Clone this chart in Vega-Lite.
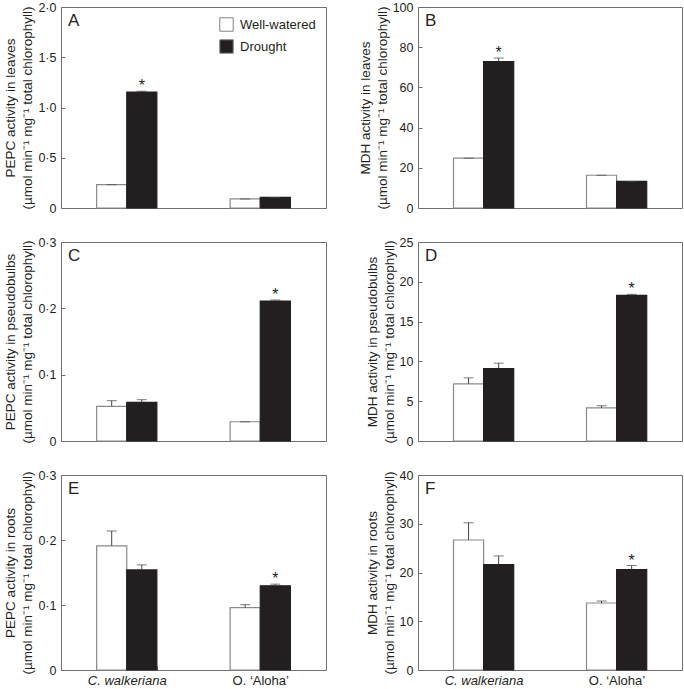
{
  "$schema": "https://vega.github.io/schema/vega-lite/v6.json",
  "padding": {"left": 3, "top": 0, "right": 0, "bottom": 0},
  "background": "white",
  "data": {
    "values": [
      {"panel": "A", "species": "C. walkeriana", "treatment": "Well-watered", "value": 0.232, "upper": 0.232, "sig": ""},
      {"panel": "A", "species": "C. walkeriana", "treatment": "Drought", "value": 1.154, "upper": 1.162, "sig": "*"},
      {"panel": "A", "species": "O. ‘Aloha’", "treatment": "Well-watered", "value": 0.09, "upper": 0.09, "sig": ""},
      {"panel": "A", "species": "O. ‘Aloha’", "treatment": "Drought", "value": 0.105, "upper": 0.105, "sig": ""},
      {"panel": "B", "species": "C. walkeriana", "treatment": "Well-watered", "value": 24.8, "upper": 24.8, "sig": ""},
      {"panel": "B", "species": "C. walkeriana", "treatment": "Drought", "value": 72.8, "upper": 74.6, "sig": "*"},
      {"panel": "B", "species": "O. ‘Aloha’", "treatment": "Well-watered", "value": 16.3, "upper": 16.3, "sig": ""},
      {"panel": "B", "species": "O. ‘Aloha’", "treatment": "Drought", "value": 13.2, "upper": 13.2, "sig": ""},
      {"panel": "C", "species": "C. walkeriana", "treatment": "Well-watered", "value": 0.0523, "upper": 0.0608, "sig": ""},
      {"panel": "C", "species": "C. walkeriana", "treatment": "Drought", "value": 0.0583, "upper": 0.0623, "sig": ""},
      {"panel": "C", "species": "O. ‘Aloha’", "treatment": "Well-watered", "value": 0.029, "upper": 0.029, "sig": ""},
      {"panel": "C", "species": "O. ‘Aloha’", "treatment": "Drought", "value": 0.211, "upper": 0.2126, "sig": "*"},
      {"panel": "D", "species": "C. walkeriana", "treatment": "Well-watered", "value": 7.17, "upper": 7.93, "sig": ""},
      {"panel": "D", "species": "C. walkeriana", "treatment": "Drought", "value": 9.11, "upper": 9.78, "sig": ""},
      {"panel": "D", "species": "O. ‘Aloha’", "treatment": "Well-watered", "value": 4.17, "upper": 4.43, "sig": ""},
      {"panel": "D", "species": "O. ‘Aloha’", "treatment": "Drought", "value": 18.3, "upper": 18.42, "sig": "*"},
      {"panel": "E", "species": "C. walkeriana", "treatment": "Well-watered", "value": 0.191, "upper": 0.2138, "sig": ""},
      {"panel": "E", "species": "C. walkeriana", "treatment": "Drought", "value": 0.154, "upper": 0.1617, "sig": ""},
      {"panel": "E", "species": "O. ‘Aloha’", "treatment": "Well-watered", "value": 0.0959, "upper": 0.1005, "sig": ""},
      {"panel": "E", "species": "O. ‘Aloha’", "treatment": "Drought", "value": 0.1296, "upper": 0.1321, "sig": "*"},
      {"panel": "F", "species": "C. walkeriana", "treatment": "Well-watered", "value": 26.67, "upper": 30.2, "sig": ""},
      {"panel": "F", "species": "C. walkeriana", "treatment": "Drought", "value": 21.63, "upper": 23.4, "sig": ""},
      {"panel": "F", "species": "O. ‘Aloha’", "treatment": "Well-watered", "value": 13.74, "upper": 14.15, "sig": ""},
      {"panel": "F", "species": "O. ‘Aloha’", "treatment": "Drought", "value": 20.6, "upper": 21.43, "sig": "*"}
    ]
  },
  "columns": 2,
  "spacing": {"row": 20, "column": 30},
  "resolve": {"scale": {"fill": "independent", "x": "independent", "y": "independent"}},
  "concat": [
    {
      "width": 265, "height": 201,
      "title": {"text": "A"},
      "transform": [{"filter": "datum.panel == 'A'"}],
      "encoding": {
        "x": {"field": "species", "type": "nominal", "sort": ["C. walkeriana", "O. ‘Aloha’"], "scale": {"paddingInner": 0.549, "paddingOuter": 0.267}, "axis": null},
        "xOffset": {"field": "treatment", "type": "nominal", "sort": ["Well-watered", "Drought"], "scale": {"paddingInner": 0, "paddingOuter": 0}},
        "y": {"field": "value", "type": "quantitative", "scale": {"domain": [0, 2]}, "axis": {"values": [0, 0.5, 1, 1.5, 2]}, "title": ["PEPC activity in leaves", "(µmol min⁻¹ mg⁻¹ total chlorophyll)"]}
      },
      "layer": [
        {"mark": {"type": "bar", "strokeWidth": 1.2},
         "encoding": {
           "fill": {"field": "treatment", "type": "nominal", "scale": {"domain": ["Well-watered", "Drought"], "range": ["#ffffff", "#231f20"]},
             "legend": {"orient": "top-right", "offset": 10, "title": null, "symbolType": "square", "symbolSize": 180, "symbolStrokeColor": "#808080", "symbolStrokeWidth": 1, "labelFontSize": 13, "rowPadding": 3, "labelOffset": 6, "padding": 0, "labelColor": "#231f20", "labelFont": "Liberation Sans"}},
           "stroke": {"condition": {"test": "datum.treatment == 'Well-watered'", "value": "#8a8a8a"}, "value": "#231f20"}
         }},
        {"mark": {"type": "rule", "color": "#444444"}, "encoding": {"y2": {"field": "upper"}}},
        {"mark": {"type": "tick", "color": "#444444", "size": 10, "thickness": 1}, "encoding": {"y": {"field": "upper", "type": "quantitative"}}},
        {"transform": [{"filter": "datum.sig == '*'"}], "mark": {"type": "text", "fontSize": 16, "baseline": "alphabetic", "dy": 0, "color": "#231f20"}, "encoding": {"y": {"field": "upper", "type": "quantitative"}, "text": {"field": "sig"}}}
      ]
    },
    {
      "width": 264, "height": 201,
      "title": {"text": "B"},
      "transform": [{"filter": "datum.panel == 'B'"}],
      "encoding": {
        "x": {"field": "species", "type": "nominal", "sort": ["C. walkeriana", "O. ‘Aloha’"], "scale": {"paddingInner": 0.549, "paddingOuter": 0.267}, "axis": null},
        "xOffset": {"field": "treatment", "type": "nominal", "sort": ["Well-watered", "Drought"], "scale": {"paddingInner": 0, "paddingOuter": 0}},
        "y": {"field": "value", "type": "quantitative", "scale": {"domain": [0, 100]}, "axis": {"values": [0, 20, 40, 60, 80, 100]}, "title": ["MDH activity in leaves", "(µmol min⁻¹ mg⁻¹ total chlorophyll)"]}
      },
      "layer": [
        {"mark": {"type": "bar", "strokeWidth": 1.2},
         "encoding": {
           "fill": {"field": "treatment", "type": "nominal", "scale": {"domain": ["Well-watered", "Drought"], "range": ["#ffffff", "#231f20"]}, "legend": null},
           "stroke": {"condition": {"test": "datum.treatment == 'Well-watered'", "value": "#8a8a8a"}, "value": "#231f20"}
         }},
        {"mark": {"type": "rule", "color": "#444444"}, "encoding": {"y2": {"field": "upper"}}},
        {"mark": {"type": "tick", "color": "#444444", "size": 10, "thickness": 1}, "encoding": {"y": {"field": "upper", "type": "quantitative"}}},
        {"transform": [{"filter": "datum.sig == '*'"}], "mark": {"type": "text", "fontSize": 16, "baseline": "alphabetic", "dy": 0, "color": "#231f20"}, "encoding": {"y": {"field": "upper", "type": "quantitative"}, "text": {"field": "sig"}}}
      ]
    },
    {
      "width": 265, "height": 199,
      "title": {"text": "C"},
      "transform": [{"filter": "datum.panel == 'C'"}],
      "encoding": {
        "x": {"field": "species", "type": "nominal", "sort": ["C. walkeriana", "O. ‘Aloha’"], "scale": {"paddingInner": 0.549, "paddingOuter": 0.267}, "axis": null},
        "xOffset": {"field": "treatment", "type": "nominal", "sort": ["Well-watered", "Drought"], "scale": {"paddingInner": 0, "paddingOuter": 0}},
        "y": {"field": "value", "type": "quantitative", "scale": {"domain": [0, 0.3]}, "axis": {"values": [0, 0.1, 0.2, 0.3]}, "title": ["PEPC activity in pseudobulbs", "(µmol min⁻¹ mg⁻¹ total chlorophyll)"]}
      },
      "layer": [
        {"mark": {"type": "bar", "strokeWidth": 1.2},
         "encoding": {
           "fill": {"field": "treatment", "type": "nominal", "scale": {"domain": ["Well-watered", "Drought"], "range": ["#ffffff", "#231f20"]}, "legend": null},
           "stroke": {"condition": {"test": "datum.treatment == 'Well-watered'", "value": "#8a8a8a"}, "value": "#231f20"}
         }},
        {"mark": {"type": "rule", "color": "#444444"}, "encoding": {"y2": {"field": "upper"}}},
        {"mark": {"type": "tick", "color": "#444444", "size": 10, "thickness": 1}, "encoding": {"y": {"field": "upper", "type": "quantitative"}}},
        {"transform": [{"filter": "datum.sig == '*'"}], "mark": {"type": "text", "fontSize": 16, "baseline": "alphabetic", "dy": 0, "color": "#231f20"}, "encoding": {"y": {"field": "upper", "type": "quantitative"}, "text": {"field": "sig"}}}
      ]
    },
    {
      "width": 264, "height": 199,
      "title": {"text": "D"},
      "transform": [{"filter": "datum.panel == 'D'"}],
      "encoding": {
        "x": {"field": "species", "type": "nominal", "sort": ["C. walkeriana", "O. ‘Aloha’"], "scale": {"paddingInner": 0.549, "paddingOuter": 0.267}, "axis": null},
        "xOffset": {"field": "treatment", "type": "nominal", "sort": ["Well-watered", "Drought"], "scale": {"paddingInner": 0, "paddingOuter": 0}},
        "y": {"field": "value", "type": "quantitative", "scale": {"domain": [0, 25]}, "axis": {"values": [0, 5, 10, 15, 20, 25]}, "title": ["MDH activity in pseudobulbs", "(µmol min⁻¹ mg⁻¹ total chlorophyll)"]}
      },
      "layer": [
        {"mark": {"type": "bar", "strokeWidth": 1.2},
         "encoding": {
           "fill": {"field": "treatment", "type": "nominal", "scale": {"domain": ["Well-watered", "Drought"], "range": ["#ffffff", "#231f20"]}, "legend": null},
           "stroke": {"condition": {"test": "datum.treatment == 'Well-watered'", "value": "#8a8a8a"}, "value": "#231f20"}
         }},
        {"mark": {"type": "rule", "color": "#444444"}, "encoding": {"y2": {"field": "upper"}}},
        {"mark": {"type": "tick", "color": "#444444", "size": 10, "thickness": 1}, "encoding": {"y": {"field": "upper", "type": "quantitative"}}},
        {"transform": [{"filter": "datum.sig == '*'"}], "mark": {"type": "text", "fontSize": 16, "baseline": "alphabetic", "dy": 0, "color": "#231f20"}, "encoding": {"y": {"field": "upper", "type": "quantitative"}, "text": {"field": "sig"}}}
      ]
    },
    {
      "width": 265, "height": 195,
      "title": {"text": "E"},
      "transform": [{"filter": "datum.panel == 'E'"}],
      "encoding": {
        "x": {"field": "species", "type": "nominal", "sort": ["C. walkeriana", "O. ‘Aloha’"], "scale": {"paddingInner": 0.549, "paddingOuter": 0.267},
          "axis": {"title": null, "tickBand": "extent", "labelAngle": 0, "labelFontSize": 13, "labelPadding": 8, "labelFontStyle": {"condition": {"test": "datum.value == 'C. walkeriana'", "value": "italic"}, "value": "normal"}}},
        "xOffset": {"field": "treatment", "type": "nominal", "sort": ["Well-watered", "Drought"], "scale": {"paddingInner": 0, "paddingOuter": 0}},
        "y": {"field": "value", "type": "quantitative", "scale": {"domain": [0, 0.3]}, "axis": {"values": [0, 0.1, 0.2, 0.3]}, "title": ["PEPC activity in roots", "(µmol min⁻¹ mg⁻¹ total chlorophyll)"]}
      },
      "layer": [
        {"mark": {"type": "bar", "strokeWidth": 1.2},
         "encoding": {
           "fill": {"field": "treatment", "type": "nominal", "scale": {"domain": ["Well-watered", "Drought"], "range": ["#ffffff", "#231f20"]}, "legend": null},
           "stroke": {"condition": {"test": "datum.treatment == 'Well-watered'", "value": "#8a8a8a"}, "value": "#231f20"}
         }},
        {"mark": {"type": "rule", "color": "#444444"}, "encoding": {"y2": {"field": "upper"}}},
        {"mark": {"type": "tick", "color": "#444444", "size": 10, "thickness": 1}, "encoding": {"y": {"field": "upper", "type": "quantitative"}}},
        {"transform": [{"filter": "datum.sig == '*'"}], "mark": {"type": "text", "fontSize": 16, "baseline": "alphabetic", "dy": 0, "color": "#231f20"}, "encoding": {"y": {"field": "upper", "type": "quantitative"}, "text": {"field": "sig"}}}
      ]
    },
    {
      "width": 264, "height": 195,
      "title": {"text": "F"},
      "transform": [{"filter": "datum.panel == 'F'"}],
      "encoding": {
        "x": {"field": "species", "type": "nominal", "sort": ["C. walkeriana", "O. ‘Aloha’"], "scale": {"paddingInner": 0.549, "paddingOuter": 0.267},
          "axis": {"title": null, "tickBand": "extent", "labelAngle": 0, "labelFontSize": 13, "labelPadding": 8, "labelFontStyle": {"condition": {"test": "datum.value == 'C. walkeriana'", "value": "italic"}, "value": "normal"}}},
        "xOffset": {"field": "treatment", "type": "nominal", "sort": ["Well-watered", "Drought"], "scale": {"paddingInner": 0, "paddingOuter": 0}},
        "y": {"field": "value", "type": "quantitative", "scale": {"domain": [0, 40]}, "axis": {"values": [0, 10, 20, 30, 40]}, "title": ["MDH activity in roots", "(µmol min⁻¹ mg⁻¹ total chlorophyll)"]}
      },
      "layer": [
        {"mark": {"type": "bar", "strokeWidth": 1.2},
         "encoding": {
           "fill": {"field": "treatment", "type": "nominal", "scale": {"domain": ["Well-watered", "Drought"], "range": ["#ffffff", "#231f20"]}, "legend": null},
           "stroke": {"condition": {"test": "datum.treatment == 'Well-watered'", "value": "#8a8a8a"}, "value": "#231f20"}
         }},
        {"mark": {"type": "rule", "color": "#444444"}, "encoding": {"y2": {"field": "upper"}}},
        {"mark": {"type": "tick", "color": "#444444", "size": 10, "thickness": 1}, "encoding": {"y": {"field": "upper", "type": "quantitative"}}},
        {"transform": [{"filter": "datum.sig == '*'"}], "mark": {"type": "text", "fontSize": 16, "baseline": "alphabetic", "dy": 0, "color": "#231f20"}, "encoding": {"y": {"field": "upper", "type": "quantitative"}, "text": {"field": "sig"}}}
      ]
    }
  ],
  "config": {
    "font": "Liberation Sans",
    "view": {"stroke": "#707070", "strokeWidth": 1},
    "axis": {"domain": false, "grid": false, "tickColor": "#707070", "tickSize": -4, "labelColor": "#231f20", "titleColor": "#231f20", "labelFont": "Liberation Sans", "titleFont": "Liberation Sans", "titleFontWeight": "normal", "labelFontSize": 12.5, "titleFontSize": 13.5},
    "axisY": {"labelPadding": 9, "titlePadding": 3, "titleLineHeight": 17,
      "labelExpr": "datum.value == 0 ? '0' : replace(format(datum.value, (datum.value % 1 == 0 && datum.value >= 5) ? 'd' : '.1f'), '.', '·')"},
    "title": {"anchor": "start", "frame": "group", "offset": -29, "dx": 7, "fontSize": 17, "fontWeight": "normal", "color": "#231f20", "font": "Liberation Sans"}
  }
}
